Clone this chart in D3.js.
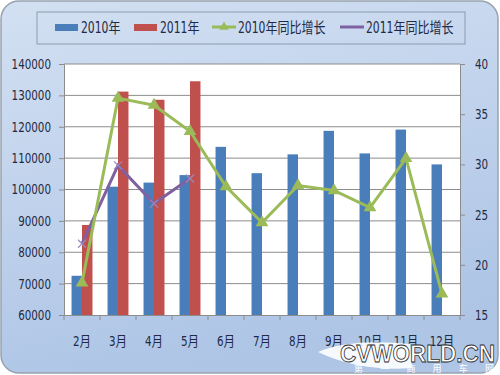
<!DOCTYPE html>
<html>
<head>
<meta charset="utf-8">
<script src="https://cdn.jsdelivr.net/npm/d3@7"></script>
<style>
  body { margin: 0; background: #fff; }
  svg { display: block; }
</style>
</head>
<body>
<svg width="500" height="375"></svg>
<script>
"use strict";

// chart data
var months = ["2月", "3月", "4月", "5月", "6月", "7月", "8月", "9月", "10月", "11月", "12月"];
var sales2010 = [72500, 100900, 102200, 104600, 113600, 105200, 111200, 118700, 111500, 119100, 108000];
var sales2011 = [88700, 131200, 128600, 134500];
var growth2010 = [18.2, 36.6, 35.9, 33.3, 27.8, 24.2, 27.9, 27.4, 25.7, 30.6, 17.1];
var growth2011 = [22.1, 29.9, 26.1, 28.6];
var leftTicks = [60000, 70000, 80000, 90000, 100000, 110000, 120000, 130000, 140000];
var rightTicks = [15, 20, 25, 30, 35, 40];
var legendNames = ["2010年", "2011年", "2010年同比增长", "2011年同比增长"];

var blue = "#4a7ebb", red = "#c0504d", green = "#9bbb59", purple = "#7f60a0";
var font = "'Liberation Sans Narrow', 'DejaVu Sans Condensed', 'Noto Sans CJK SC', sans-serif";

var svg = d3.select("svg");
var plotLeft = 64, plotRight = 460, plotTop = 64, plotBottom = 315;

// squeeze text horizontally, the original uses a narrow face
function narrow(sel, k) {
  sel.each(function() {
    var w = this.getComputedTextLength();
    d3.select(this).attr("textLength", w * k).attr("lengthAdjust", "spacingAndGlyphs");
  });
}

var defs = svg.append("defs");
var grad = defs.append("linearGradient").attr("id", "bg")
    .attr("x1", 0).attr("y1", 0).attr("x2", 0.3).attr("y2", 1);
grad.append("stop").attr("offset", "0%").attr("stop-color", "#d3e0f2");
grad.append("stop").attr("offset", "100%").attr("stop-color", "#aec5e6");

// frame
svg.append("rect")
    .attr("x", 1).attr("y", 1).attr("width", 497).attr("height", 372)
    .attr("rx", 18).attr("ry", 18)
    .attr("fill", "url(#bg)")
    .attr("stroke", "#98a2ae").attr("stroke-width", 1.5);

// plot background
svg.append("rect")
    .attr("x", plotLeft).attr("y", plotTop)
    .attr("width", plotRight - plotLeft).attr("height", plotBottom - plotTop)
    .attr("fill", "#fff");

var x = d3.scaleBand().domain(months).range([plotLeft, plotRight]);
var sub = d3.scaleBand().domain(["2010", "2011"]).range([0, x.bandwidth()])
    .paddingInner(0).paddingOuter(0.72);
var yL = d3.scaleLinear().domain([60000, 140000]).range([plotBottom, plotTop]);
var yR = d3.scaleLinear().domain([15, 40]).range([plotBottom, plotTop]);

// gridlines
svg.append("g").selectAll("line")
    .data(leftTicks.slice(1))
    .enter().append("line")
    .attr("x1", plotLeft).attr("x2", plotRight)
    .attr("y1", function(d) { return yL(d); })
    .attr("y2", function(d) { return yL(d); })
    .attr("stroke", "#8c8c8c").attr("stroke-width", 1);

// bars
svg.append("g").selectAll("rect")
    .data(sales2010)
    .enter().append("rect")
    .attr("x", function(d, i) { return x(months[i]) + sub("2010"); })
    .attr("y", function(d) { return yL(d); })
    .attr("width", sub.bandwidth())
    .attr("height", function(d) { return plotBottom - yL(d); })
    .attr("fill", blue);

svg.append("g").selectAll("rect")
    .data(sales2011)
    .enter().append("rect")
    .attr("x", function(d, i) { return x(months[i]) + sub("2011"); })
    .attr("y", function(d) { return yL(d); })
    .attr("width", sub.bandwidth())
    .attr("height", function(d) { return plotBottom - yL(d); })
    .attr("fill", red);

// axes
var axisL = svg.append("g")
    .attr("transform", "translate(" + plotLeft + ",0)")
    .call(d3.axisLeft(yL).tickValues(leftTicks).tickFormat(d3.format("d")).tickSize(5).tickPadding(8));
var axisR = svg.append("g")
    .attr("transform", "translate(" + plotRight + ",0)")
    .call(d3.axisRight(yR).tickValues(rightTicks).tickSize(5).tickPadding(10));
var axisB = svg.append("g")
    .attr("transform", "translate(0," + plotBottom + ")")
    .call(d3.axisBottom(x).tickSize(0).tickPadding(21));

[axisL, axisR, axisB].forEach(function(a) {
  a.selectAll("path, line").attr("stroke", "#8c8c8c");
  a.selectAll("text").attr("fill", "#1f2a44").style("font-size", "14px").style("font-family", font);
  narrow(a.selectAll("text"), 0.82);
});

// category separator ticks on bottom axis
svg.append("g").selectAll("line")
    .data(months.concat(["end"]))
    .enter().append("line")
    .attr("x1", function(d, i) { return plotLeft + i * x.bandwidth(); })
    .attr("x2", function(d, i) { return plotLeft + i * x.bandwidth(); })
    .attr("y1", plotBottom).attr("y2", plotBottom + 5)
    .attr("stroke", "#8c8c8c");

// growth lines
var line = d3.line()
    .x(function(d, i) { return x(months[i]) + x.bandwidth() / 2; })
    .y(function(d) { return yR(d); });

svg.append("path").datum(growth2011)
    .attr("d", line).attr("fill", "none")
    .attr("stroke", purple).attr("stroke-width", 3);
svg.append("path").datum(growth2010)
    .attr("d", line).attr("fill", "none")
    .attr("stroke", green).attr("stroke-width", 3);

var tri = d3.symbol().type(d3.symbolTriangle).size(70);
svg.append("g").selectAll("path")
    .data(growth2010)
    .enter().append("path")
    .attr("d", tri)
    .attr("transform", function(d, i) {
      return "translate(" + (x(months[i]) + x.bandwidth() / 2) + "," + yR(d) + ")";
    })
    .attr("fill", green);

svg.append("g").selectAll("path")
    .data(growth2011)
    .enter().append("path")
    .attr("d", "M-4,-4L4,4M-4,4L4,-4")
    .attr("transform", function(d, i) {
      return "translate(" + (x(months[i]) + x.bandwidth() / 2) + "," + yR(d) + ")";
    })
    .attr("stroke", "#9b89bf").attr("stroke-width", 1.2).attr("fill", "none");

// legend
svg.append("rect")
    .attr("x", 37).attr("y", 12).attr("width", 428).attr("height", 32)
    .attr("fill", "none").attr("stroke", "#8d9bb0").attr("stroke-width", 1);

var legendX = [55, 134, 212, 340];
var legendColors = [blue, red, green, purple];
var lg = svg.append("g").selectAll("g")
    .data(legendNames)
    .enter().append("g")
    .attr("transform", function(d, i) { return "translate(" + legendX[i] + ",27)"; });

lg.each(function(d, i) {
  var g = d3.select(this);
  if (i < 2) {
    g.append("rect").attr("x", 0).attr("y", -3).attr("width", 23).attr("height", 7)
        .attr("fill", legendColors[i]);
  } else {
    g.append("line").attr("x1", 0).attr("x2", 24).attr("y1", 0).attr("y2", 0)
        .attr("stroke", legendColors[i]).attr("stroke-width", 3);
    if (i === 2) {
      g.append("path").attr("d", d3.symbol().type(d3.symbolTriangle).size(40))
          .attr("transform", "translate(12,0)").attr("fill", green);
    }
  }
  g.append("text")
      .attr("x", 26).attr("y", 5.5)
      .attr("fill", "#1f2a44")
      .style("font-family", font).style("font-size", "15px")
      .text(d);
});
narrow(lg.selectAll("text"), 0.8);

// watermark
var wm = svg.append("g");
wm.append("path")
    .attr("d", "M318,352 Q350,338 410,344 L412,368 Q360,372 318,352 Z")
    .attr("fill", "#ffffff").attr("opacity", 0.9);
wm.append("text")
    .attr("x", 495).attr("y", 362).attr("text-anchor", "end")
    .style("font-family", "'Liberation Sans', Arial, sans-serif")
    .style("font-size", "24px").style("font-weight", "bold")
    .attr("textLength", 155).attr("lengthAdjust", "spacingAndGlyphs")
    .attr("fill", "#ffffff").attr("stroke", "#2a2a2a").attr("stroke-width", 0.8)
    .text("CVWORLD.CN");
wm.append("text")
    .attr("x", 354).attr("y", 372)
    .style("font-family", "'Noto Sans CJK SC', sans-serif")
    .style("font-size", "9px").attr("fill", "#ffffff")
    .attr("textLength", 140).attr("lengthAdjust", "spacing")
    .text("第一商用车网");
</script>
</body>
</html>
